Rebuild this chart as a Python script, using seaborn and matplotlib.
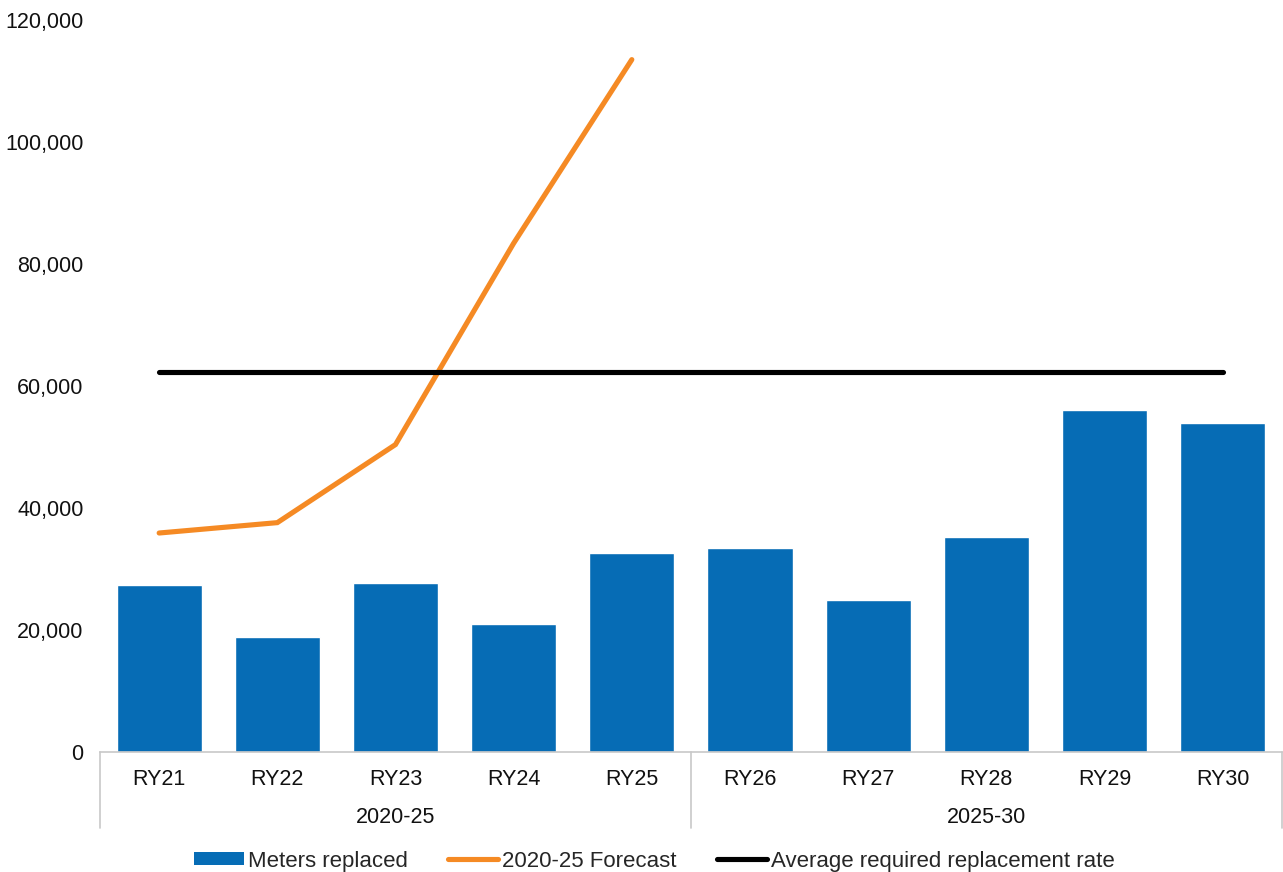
import matplotlib
matplotlib.use("Agg")
import matplotlib.pyplot as plt
import matplotlib.transforms as mtransforms
from matplotlib.patches import Patch
from matplotlib.lines import Line2D
import seaborn as sns
import pandas as pd

categories = ["RY21", "RY22", "RY23", "RY24", "RY25", "RY26", "RY27", "RY28", "RY29", "RY30"]
groups = ["2020-25", "2025-30"]
group_members = [5, 5]
meters_replaced = [27400, 18900, 27700, 21000, 32600, 33400, 24900, 35300, 56000, 53900]
forecast_cats = ["RY21", "RY22", "RY23", "RY24", "RY25"]
forecast = [35900, 37600, 50400, 83400, 113500]
avg_required = 62300
yticks = [0, 20000, 40000, 60000, 80000, 100000, 120000]

BLUE = "#066CB5"
ORANGE = "#F58A24"
FS = 15.5

sns.set_theme(style="white")
plt.rcParams["font.family"] = ["Liberation Sans", "DejaVu Sans"]

fig = plt.figure(figsize=(12.83, 8.72), dpi=100)
ax = fig.add_axes([0.078, 0.1376, 0.921, 0.8395])

df = pd.DataFrame({"cat": categories, "val": meters_replaced})
sns.barplot(data=df, x="cat", y="val", color=BLUE, saturation=1, width=0.72, ax=ax, zorder=2)

xpos = {c: i for i, c in enumerate(categories)}
ax.plot([xpos[c] for c in forecast_cats], forecast, color=ORANGE, lw=3.7,
        solid_capstyle="round", solid_joinstyle="miter", zorder=3)
ax.plot(range(len(categories)), [avg_required] * len(categories), color="black", lw=3.7,
        solid_capstyle="round", zorder=4)

ax.set_xlim(-0.5, len(categories) - 0.5)
ax.set_ylim(0, 120000)
ax.set_yticks(yticks)
ax.set_yticklabels([f"{v:,}" for v in yticks], fontsize=FS, color="#111111")
ax.tick_params(axis="y", length=0, pad=12)
ax.tick_params(axis="x", length=0, pad=12, labelsize=FS, labelcolor="#111111")
ax.set_xlabel("")
ax.set_ylabel("")
for s in ["top", "right", "left"]:
    ax.spines[s].set_visible(False)
ax.spines["bottom"].set_color("#c8c8c8")
ax.spines["bottom"].set_linewidth(1.2)

# group separators and labels
trans = mtransforms.blended_transform_factory(ax.transData, ax.transAxes)
bounds = [-0.5]
for n in group_members:
    bounds.append(bounds[-1] + n)
for b in bounds:
    ax.plot([b, b], [0, -0.104], transform=trans, color="#c8c8c8", lw=1.2, clip_on=False)
for g, lo, hi in zip(groups, bounds[:-1], bounds[1:]):
    ax.text((lo + hi) / 2, -0.09, g, transform=trans, ha="center", va="center",
            fontsize=FS, color="#111111")

handles = [
    Patch(facecolor=BLUE, edgecolor="none", label="Meters replaced"),
    Line2D([0], [0], color=ORANGE, lw=3.7, solid_capstyle="round", label="2020-25 Forecast"),
    Line2D([0], [0], color="black", lw=3.7, solid_capstyle="round", label="Average required replacement rate"),
]
fig.legend(handles=handles, loc="center", bbox_to_anchor=(0.51, 0.0125), ncol=3, frameon=False,
           fontsize=16.0, handlelength=2.25, handleheight=0.5, handletextpad=0.18, columnspacing=1.8)

fig.savefig("out.png", dpi=100)
